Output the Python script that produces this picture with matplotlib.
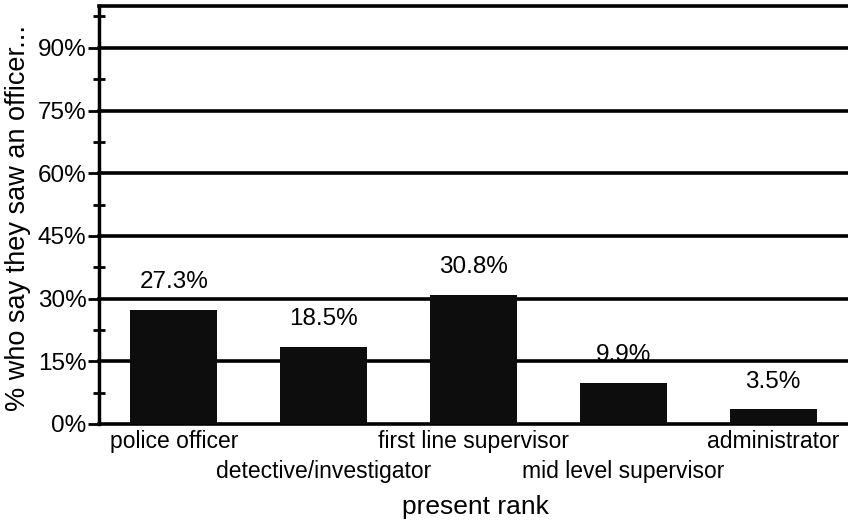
import matplotlib
matplotlib.use('Agg')
from matplotlib import pyplot as plt
from matplotlib.ticker import MultipleLocator

# data
ranks = ["police officer", "detective/investigator", "first line supervisor",
         "mid level supervisor", "administrator"]
pct = [27.3, 18.5, 30.8, 9.9, 3.5]
pct_labels = ["27.3%", "18.5%", "30.8%", "9.9%", "3.5%"]
y_ticks = [0, 15, 30, 45, 60, 75, 90]

plt.rcParams['font.family'] = ['Liberation Sans', 'DejaVu Sans']

fig = plt.figure(figsize=(8.48, 5.23), dpi=100)
ax = fig.add_axes([99 / 848, 1 - 424 / 523, 1 - 99 / 848, (424 - 6) / 523])

xs = list(range(len(ranks)))
ax.bar(xs, pct, width=0.58, color="#0d0d0d", zorder=3)

# gridlines
for t in y_ticks[1:] + [100]:
    ax.axhline(t, color="black", lw=2.6, zorder=2, clip_on=False)

for x, v, lab in zip(xs, pct, pct_labels):
    ax.annotate(lab, (x, v), xytext=(0, 20), textcoords="offset points",
                ha="center", va="center", fontsize=17.5)

ax.set_xlim(-0.5, 4.5)
ax.set_ylim(0, 100)
ax.set_yticks(y_ticks)
ax.set_yticklabels([f"{t}%" for t in y_ticks], fontsize=17.5)
ax.yaxis.set_minor_locator(MultipleLocator(7.5))
ax.tick_params(axis="y", which="major", length=8, width=2, direction="out", pad=1)
ax.tick_params(axis="y", which="minor", length=8, width=2, direction="inout")

ax.set_xticks(xs)
ax.set_xticklabels(ranks, fontsize=16.5)
for i, lab in enumerate(ax.get_xticklabels()):
    if i % 2 == 1:
        lab.set_y(-0.072)
ax.tick_params(axis="x", length=0, pad=4)

ax.spines["top"].set_visible(False)
ax.spines["right"].set_visible(False)
ax.spines["left"].set_linewidth(2.5)
ax.spines["bottom"].set_linewidth(2.6)

fig.text(475 / 848, 1 - 507 / 523, "present rank", fontsize=19,
         ha="center", va="center")
fig.text(18 / 848, 1 - 218 / 523, "% who say they saw an officer...",
         fontsize=19.5, rotation=90, ha="center", va="center")

fig.savefig("out.png", dpi=100)
